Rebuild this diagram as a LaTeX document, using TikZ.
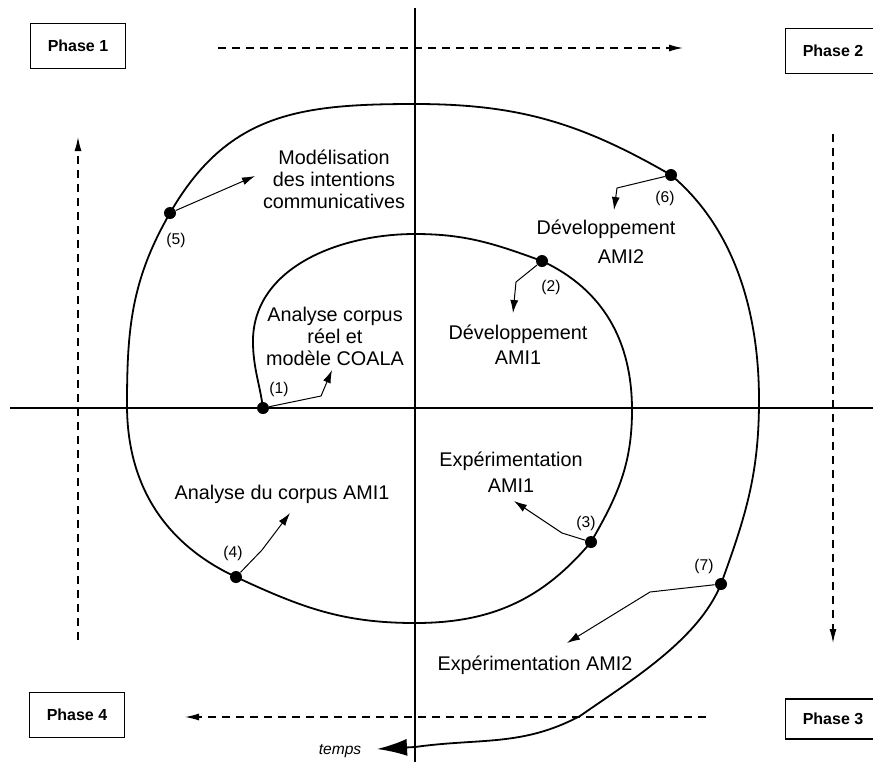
\documentclass[tikz,border=0pt]{standalone}
\usepackage{fontspec}
\setmainfont{Liberation Sans}
\usetikzlibrary{arrows.meta,positioning}
\tikzset{
  phase/.style={rectangle, draw, line width=0.9pt, font=\fontsize{8}{9.6}\selectfont\bfseries,
                minimum width=47.5pt, minimum height=22.5pt, inner sep=2pt},
  txt/.style={align=center, font=\fontsize{9.9}{11}\selectfont, inner sep=0pt},
  num/.style={font=\fontsize{7.8}{9}\selectfont, inner sep=0pt},
  blob/.style={circle, fill, inner sep=0pt, minimum size=6pt},
  axe/.style={line width=1pt},
  spir/.style={line width=0.9pt, -{Latex[length=15pt,width=8.5pt]}},
  fl/.style={-{Latex[length=6.5pt,width=4pt]}, line width=0.5pt},
  dsh/.style={-{Latex[length=7pt,width=3.5pt]}, line width=0.6pt, dash pattern=on 4pt off 3pt},
}

\begin{document}
\begin{tikzpicture}[x=0.5pt,y=-0.5pt]
\useasboundingbox (0,0) rectangle (873,762);
% axes
\draw[axe] (415,8) -- (415,762);
\draw[axe] (10,408) -- (873,408);
% phases
\node[phase] (ph1) at (78,46) {Phase 1};
\node[phase] (ph2) at (833,51) {Phase 2};
\node[phase, minimum height=20pt] (ph3) at (833,719) {Phase 3};
\node[phase] (ph4) at (77,715) {Phase 4};
\draw[dsh] (218,48) -- (683,48);
\draw[dsh] (833,134) -- (833,643);
\draw[dsh] (706,717) -- (185,717);
\draw[dsh] (78,640) -- (78,137);
% points
\node[blob] (d1) at (263,408) {};
\node[blob] (d2) at (542,261) {};
\node[blob] (d3) at (591,542) {};
\node[blob] (d4) at (236,577) {};
\node[blob] (d5) at (170,213) {};
\node[blob] (d6) at (671,175) {};
\node[blob] (d7) at (721,584) {};
% spiral
\draw[spir] (d1.center) to[out=98,in=-88] (253,345)
  to[out=92,in=180] (415,234) to[out=0,in=160] (d2.center)
  to[out=-25,in=90] (632,410) to[out=-90,in=60] (d3.center)
  to[out=-130,in=0] (415,623) to[out=180,in=-25] (d4.center)
  to[out=155,in=-90] (127,405) to[out=90,in=-120] (d5.center)
  to[out=60,in=180,looseness=1.1] (415,104) to[out=0,in=150] (d6.center)
  to[out=-40,in=90,looseness=0.9] (759,400) to[out=-90,in=70] (d7.center)
  to[out=-112,in=35,looseness=0.8] (580,716) to[out=-152,in=8] (415,747) -- (377,749);
\node[num] (temps) at (340,751) {\itshape temps};
\node[num] (n1) at (279,389) {(1)};
\node[num] (n2) at (551,287) {(2)};
\node[num] (n3) at (586,523) {(3)};
\node[num] (n4) at (233,553) {(4)};
\node[num] (n5) at (176,240) {(5)};
\node[num] (n6) at (665,198) {(6)};
\node[num] (n7) at (704,566) {(7)};
% labels
\node[txt] (ana1) at (335,336) {Analyse corpus\\réel et\\modèle COALA};
\node[txt, font=\fontsize{9.9}{12.5}\selectfont] (dev1) at (518,345) {Développement\\AMI1};
\node[txt, font=\fontsize{9.9}{13}\selectfont] (exp1) at (511,472) {Expérimentation\\AMI1};
\node[txt] (ana4) at (282,494) {Analyse du corpus AMI1};
\node[txt] (mod) at (334,179) {Modélisation\\des intentions\\communicatives};
\node[txt] (dev2) at (606,242) {Développement\\[3.5pt]\hspace*{15pt}AMI2};
\node[txt] (exp2) at (535,665) {Expérimentation AMI2};
% pointers
\draw[fl] (d1) -- ++(58,-12) -- ++(11,-26);
\draw[fl] (d2) -- (516,282) -- (513,313);
\draw[fl] (d3) -- (562,533) -- (514,501);
\draw[fl] (d4) -- (262,550) -- (290,513);
\draw[fl] (d5) -- (255,176);
\draw[fl] (d6) -- (617,188) -- (614,210);
\draw[fl] (d7) -- (650,592) -- (567,643);
\end{tikzpicture}
\end{document}
